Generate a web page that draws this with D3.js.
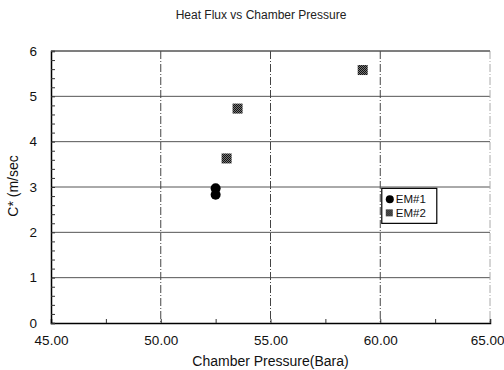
<!DOCTYPE html>
<html>
<head>
<meta charset="utf-8">
<script src="https://cdn.jsdelivr.net/npm/d3@7"></script>
<style>
    body { margin: 0; background: #fff; }
    svg { display: block; font-family: "Liberation Sans", Arial, sans-serif; }
</style>
</head>
<body>
<div id="scatter"></div>
<script>
// Data
var em1Pressure = [52.5, 52.5];
var em1Cstar = [2.97, 2.83];
var em2Pressure = [53.0, 53.5, 59.2];
var em2Cstar = [3.63, 4.73, 5.58];
var xTicks = [45, 50, 55, 60, 65];
var yTicks = [0, 1, 2, 3, 4, 5, 6];
var seriesNames = ["EM#1", "EM#2"];

var svgWidth = 504;
var svgHeight = 370;
var margin = { top: 51, right: 14, bottom: 47, left: 51 };
var chartWidth = svgWidth - margin.left - margin.right;
var chartHeight = svgHeight - margin.top - margin.bottom;

var svg = d3.select("#scatter").append("svg")
    .attr("width", svgWidth)
    .attr("height", svgHeight);

// halftone fill for the EM#2 squares
var pat = svg.append("defs").append("pattern")
    .attr("id", "dots")
    .attr("width", 2).attr("height", 2)
    .attr("patternUnits", "userSpaceOnUse");
pat.append("rect").attr("width", 2).attr("height", 2).attr("fill", "#777");
pat.append("rect").attr("width", 1).attr("height", 1).attr("fill", "#111");
pat.append("rect").attr("x", 1).attr("y", 1).attr("width", 1).attr("height", 1).attr("fill", "#111");

var chartGroup = svg.append("g")
    .attr("transform", `translate(${margin.left}, ${margin.top})`);

var xLinearScale = d3.scaleLinear().domain([45, 65]).range([0, chartWidth]);
var yLinearScale = d3.scaleLinear().domain([0, 6]).range([chartHeight, 0]);

// horizontal grid lines
chartGroup.selectAll(".hgrid")
    .data(yTicks.filter(d => d > 0))
    .enter()
    .append("line")
    .attr("x1", 0)
    .attr("x2", chartWidth)
    .attr("y1", d => yLinearScale(d))
    .attr("y2", d => yLinearScale(d))
    .attr("stroke", "#555")
    .attr("stroke-width", 1);

// vertical grid lines (dashed)
chartGroup.selectAll(".vgrid")
    .data(xTicks.filter(d => d > 45))
    .enter()
    .append("line")
    .attr("x1", d => xLinearScale(d))
    .attr("x2", d => xLinearScale(d))
    .attr("y1", 0)
    .attr("y2", chartHeight)
    .attr("stroke", d => d == 65 ? "#aaa" : "#444")
    .attr("stroke-dasharray", "8,2,1,2")
    .attr("stroke-width", 1);

// x axis
var bottomAxis = d3.axisBottom(xLinearScale)
    .tickValues(d3.range(45, 65.1, 2.5))
    .tickSize(-4)
    .tickFormat(d => (d % 5 == 0) ? d3.format(".2f")(d) : "");
var xAxisGroup = chartGroup.append("g")
    .attr("transform", `translate(0, ${chartHeight})`)
    .call(bottomAxis);
xAxisGroup.select(".domain").attr("stroke", "#000").attr("stroke-width", 1.5);
xAxisGroup.selectAll("line").attr("stroke", "#333");
xAxisGroup.selectAll("text")
    .attr("y", 12)
    .attr("font-size", 13.5)
    .attr("fill", "#111")
    .attr("font-family", "Liberation Sans, Arial, sans-serif")
    .filter(d => d == 65)
    .attr("text-anchor", "end")
    .attr("dx", 14);

// y axis
var leftAxis = d3.axisLeft(yLinearScale)
    .tickValues(d3.range(0, 6.01, 0.2))
    .tickSize(-4)
    .tickFormat(d => Math.abs(d - Math.round(d)) < 1e-6 ? d3.format("d")(Math.round(d)) : "");
var yAxisGroup = chartGroup.append("g").call(leftAxis);
yAxisGroup.select(".domain").attr("stroke", "#000").attr("stroke-width", 1.5);
yAxisGroup.selectAll("line").attr("stroke", "#333");
yAxisGroup.selectAll("text")
    .attr("x", -14)
    .attr("font-size", 13.5)
    .attr("fill", "#111")
    .attr("font-family", "Liberation Sans, Arial, sans-serif");

// top border
chartGroup.append("line")
    .attr("x1", 0).attr("x2", chartWidth)
    .attr("y1", 0).attr("y2", 0)
    .attr("stroke", "#555");

// EM#1 points
chartGroup.selectAll(".em1")
    .data(em1Pressure)
    .enter()
    .append("circle")
    .attr("cx", d => xLinearScale(d))
    .attr("cy", (d, i) => yLinearScale(em1Cstar[i]))
    .attr("r", 5)
    .attr("fill", "#000");

// EM#2 points
chartGroup.selectAll(".em2")
    .data(em2Pressure)
    .enter()
    .append("rect")
    .attr("x", d => xLinearScale(d) - 5)
    .attr("y", (d, i) => yLinearScale(em2Cstar[i]) - 5)
    .attr("width", 10)
    .attr("height", 10)
    .attr("fill", "url(#dots)");

// Legend
var legend = chartGroup.append("g")
    .attr("transform", `translate(${xLinearScale(60.07)}, ${yLinearScale(2.97)})`);
legend.append("rect")
    .attr("width", 55)
    .attr("height", 35)
    .attr("fill", "#fff")
    .attr("stroke", "#000")
    .attr("stroke-width", 1.2);
legend.append("circle").attr("cx", 8).attr("cy", 11).attr("r", 4).attr("fill", "#000");
legend.append("rect").attr("x", 4).attr("y", 21).attr("width", 7).attr("height", 7).attr("fill", "url(#dots)");
legend.selectAll(".ltext")
    .data(seriesNames)
    .enter()
    .append("text")
    .attr("x", 14)
    .attr("y", (d, i) => 15 + i * 14)
    .attr("font-size", 11.5)
    .attr("fill", "#111")
    .text(d => d);

// Title
svg.append("text")
    .attr("x", 261)
    .attr("y", 19)
    .attr("text-anchor", "middle")
    .attr("font-size", 12)
    .attr("fill", "#222")
    .text("Heat Flux vs Chamber Pressure");

// XAxis Title
svg.append("text")
    .attr("x", margin.left + xLinearScale(55))
    .attr("y", 366)
    .attr("text-anchor", "middle")
    .attr("font-size", 14)
    .attr("fill", "#111")
    .text("Chamber Pressure(Bara)");

// YAxis Title
svg.append("text")
    .attr("transform", "rotate(-90)")
    .attr("x", -186)
    .attr("y", 18)
    .attr("text-anchor", "middle")
    .attr("font-size", 14)
    .attr("fill", "#111")
    .text("C* (m/sec");
</script>
</body>
</html>
